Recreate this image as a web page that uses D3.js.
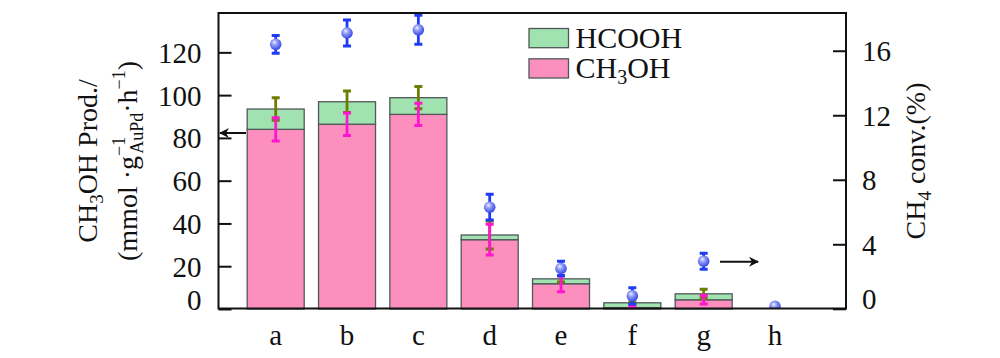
<!DOCTYPE html>
<html>
<head>
<meta charset="utf-8">
<script src="https://cdn.jsdelivr.net/npm/d3@7/dist/d3.min.js"></script>
<style>
  body { margin: 0; background: #fff; }
  svg { display: block; }
  text { font-family: "Liberation Serif", "Times New Roman", serif; fill: #111; }
</style>
</head>
<body>
<svg id="chart" width="1000" height="358"></svg>
<script>
// ---- data ----
const categories = ['a', 'b', 'c', 'd', 'e', 'f', 'g', 'h'];
const ch3oh     = [84.0, 86.4, 91.0, 32.4, 11.8, 0.6, 4.3, 0];
const hcooh     = [9.5, 10.5, 7.8, 2.2, 2.3, 2.3, 2.8, 0];
const ch3ohErr  = [5.4, 5.3, 5.2, 7.2, 3.7, 0.6, 2.0, 0];
const hcoohErr  = [5.3, 5.0, 5.2, 6.5, 1.5, 0.5, 2.1, 0];
const conv      = [16.4, 17.1, 17.3, 6.3, 2.5, 0.8, 2.95, 0.15];
const convErr   = [0.55, 0.8, 0.9, 0.8, 0.45, 0.5, 0.5, 0];
const leftTicks  = [0, 20, 40, 60, 80, 100, 120];
const rightTicks = [0, 4, 8, 12, 16];
const legendLabels = ['HCOOH', 'CH3OH'];

// ---- layout ----
const frame = { left: 218.5, right: 846, top: 13, bottom: 308.5 };
const svg = d3.select('#chart');

const x = d3.scalePoint().domain(categories).range([275.7, 775]);
const yL = d3.scaleLinear().domain([0, 138.4]).range([309, 13]);
const yR = d3.scaleLinear().domain([0, 18.34]).range([308.8, 13]);
const barW = 57;

const pink = '#fd8fbe', green = '#a0e3b0', barStroke = '#4f5858';
const olive = '#6e7d00', magenta = '#ff14cf', blue = '#1f3cf5';

const defs = svg.append('defs');
defs.append('clipPath').attr('id', 'plotClip').append('rect')
  .attr('x', frame.left).attr('y', frame.top)
  .attr('width', frame.right - frame.left).attr('height', frame.bottom - frame.top);
const grad = defs.append('radialGradient').attr('id', 'ball')
  .attr('cx', '42%').attr('cy', '38%').attr('r', '60%').attr('fx', '38%').attr('fy', '32%');
grad.append('stop').attr('offset', '0%').attr('stop-color', '#f2f4ff');
grad.append('stop').attr('offset', '35%').attr('stop-color', '#9aa4f7');
grad.append('stop').attr('offset', '100%').attr('stop-color', '#3a4be6');
const mk = defs.append('marker').attr('id', 'arrowHead')
  .attr('viewBox', '0 0 10 10').attr('refX', 9).attr('refY', 5)
  .attr('markerWidth', 13).attr('markerHeight', 10).attr('markerUnits', 'userSpaceOnUse')
  .attr('orient', 'auto');
mk.append('path').attr('d', 'M0,0 L10,5 L0,10 L3,5 Z').attr('fill', '#111');

const data = categories.map((c, i) => ({
  c, m: ch3oh[i], h: hcooh[i], me: ch3ohErr[i], he: hcoohErr[i], v: conv[i], ve: convErr[i]
}));

// ---- bars ----
const gBars = svg.append('g');
data.filter(d => d.m + d.h > 0).forEach(d => {
  gBars.append('rect')
    .attr('x', x(d.c) - barW / 2).attr('width', barW)
    .attr('y', yL(d.m)).attr('height', yL(0) - yL(d.m))
    .attr('fill', pink).attr('stroke', barStroke).attr('stroke-width', 1.3);
  gBars.append('rect')
    .attr('x', x(d.c) - barW / 2).attr('width', barW)
    .attr('y', yL(d.m + d.h)).attr('height', yL(d.m) - yL(d.m + d.h))
    .attr('fill', green).attr('stroke', barStroke).attr('stroke-width', 1.3);
});

// ---- error bars ----
function errBar(g, cx, yTop, yBot, color) {
  if (Math.abs(yBot - yTop) < 0.5) return;
  g.append('line').attr('x1', cx).attr('x2', cx).attr('y1', yTop).attr('y2', yBot)
    .attr('stroke', color).attr('stroke-width', 2.8);
  [yTop, yBot].forEach(yy => g.append('line')
    .attr('x1', cx - 4).attr('x2', cx + 4).attr('y1', yy).attr('y2', yy)
    .attr('stroke', color).attr('stroke-width', 3));
}
const gErr = svg.append('g').attr('clip-path', 'url(#plotClip)');
data.forEach(d => errBar(gErr, x(d.c), yL(d.m + d.h + d.he), yL(d.m + d.h - d.he), olive));
data.forEach(d => errBar(gErr, x(d.c), yL(d.m + d.me), yL(d.m - d.me), magenta));
data.forEach(d => errBar(gErr, x(d.c), yR(d.v + d.ve), yR(d.v - d.ve), blue));

// ---- conversion points ----
svg.append('g').attr('clip-path', 'url(#plotClip)')
  .selectAll('circle').data(data).join('circle')
  .attr('cx', d => x(d.c)).attr('cy', d => yR(d.v)).attr('r', 5.8)
  .attr('fill', 'url(#ball)');

// ---- frame ----
svg.append('rect').attr('x', frame.left).attr('y', frame.top)
  .attr('width', frame.right - frame.left).attr('height', frame.bottom - frame.top)
  .attr('fill', 'none').attr('stroke', '#111').attr('stroke-width', 2);

// ---- left axis ----
const axL = svg.append('g').attr('transform', `translate(${frame.left},0)`)
  .call(d3.axisLeft(yL).tickValues(leftTicks).tickSizeInner(-13).tickSizeOuter(0).tickPadding(17));
axL.select('.domain').remove();
axL.selectAll('.tick line').attr('stroke', '#111').attr('stroke-width', 2);
axL.selectAll('.tick text').attr('font-size', 29).attr('fill', '#111')
  .attr('font-family', '"Liberation Serif", serif')
  .attr('dy', d => d === 0 ? '0.0em' : '0.34em');

// ---- right axis ----
const axR = svg.append('g').attr('transform', `translate(${frame.right},0)`)
  .call(d3.axisRight(yR).tickValues(rightTicks).tickSizeInner(-13).tickSizeOuter(0).tickPadding(16));
axR.select('.domain').remove();
axR.selectAll('.tick line').attr('stroke', '#111').attr('stroke-width', 2);
axR.selectAll('.tick text').attr('font-size', 29).attr('fill', '#111')
  .attr('font-family', '"Liberation Serif", serif')
  .attr('dy', d => d === 0 ? '0.0em' : '0.34em');

// ---- x category labels ----
svg.append('g').selectAll('text').data(categories).join('text')
  .attr('x', d => x(d)).attr('y', 345).attr('text-anchor', 'middle')
  .attr('font-size', 29).text(d => d);

// ---- axis titles ----
const t1 = svg.append('text').attr('transform', 'translate(97,161) rotate(-90)')
  .attr('text-anchor', 'middle').attr('font-size', 28);
t1.append('tspan').text('CH');
t1.append('tspan').text('3').attr('font-size', 19).attr('dy', 6);
t1.append('tspan').text('OH Prod./').attr('dy', -6);

const t2 = svg.append('text').attr('transform', 'translate(137,161) rotate(-90)')
  .attr('text-anchor', 'middle').attr('font-size', 28);
t2.append('tspan').text('(mmol ·g');
t2.append('tspan').text('−1').attr('font-size', 18).attr('dy', -12).attr('dx', 0);
t2.append('tspan').text('AuPd').attr('font-size', 18).attr('dy', 18).attr('dx', -17);
t2.append('tspan').text('·h').attr('dy', -6);
t2.append('tspan').text('−1').attr('font-size', 18).attr('dy', -12);
t2.append('tspan').text(')').attr('dy', 12);

const t3 = svg.append('text').attr('transform', 'translate(925,161) rotate(-90)')
  .attr('text-anchor', 'middle').attr('font-size', 28);
t3.append('tspan').text('CH');
t3.append('tspan').text('4').attr('font-size', 19).attr('dy', 6);
t3.append('tspan').text(' conv.(%)').attr('dy', -6);

// ---- arrows ----
svg.append('line').attr('x1', 246).attr('y1', 133).attr('x2', 220).attr('y2', 133)
  .attr('stroke', '#111').attr('stroke-width', 2).attr('marker-end', 'url(#arrowHead)');
svg.append('line').attr('x1', 720).attr('y1', 261.7).attr('x2', 758).attr('y2', 261.7)
  .attr('stroke', '#111').attr('stroke-width', 2).attr('marker-end', 'url(#arrowHead)');

// ---- legend ----
const leg = svg.append('g');
const legColors = [green, pink];
legendLabels.forEach((lab, i) => {
  const yTop = 28.5 + i * 30.3;
  leg.append('rect').attr('x', 529).attr('y', yTop).attr('width', 39.5).attr('height', 19.2)
    .attr('fill', legColors[i]).attr('stroke', barStroke).attr('stroke-width', 1.3);
  const t = leg.append('text').attr('x', 575.5).attr('y', yTop + 19.2).attr('font-size', 30);
  if (lab === 'CH3OH') {
    t.append('tspan').text('CH');
    t.append('tspan').text('3').attr('font-size', 20).attr('dy', 6);
    t.append('tspan').text('OH').attr('dy', -6);
  } else {
    t.text(lab);
  }
});
</script>
</body>
</html>
